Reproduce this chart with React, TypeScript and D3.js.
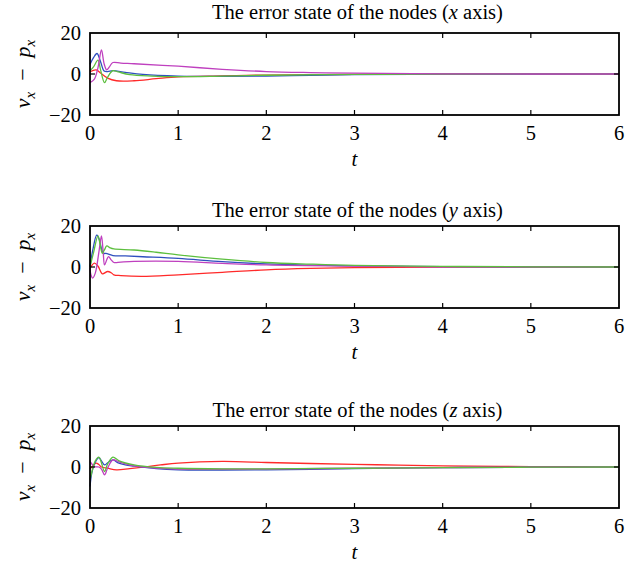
import React from "react";
import * as d3 from "d3";

// time ticks and value ticks shared by all three panels
const tTicks = [0, 1, 2, 3, 4, 5, 6];
const vTicks = [-20, 0, 20];
const axisNames = ["x", "y", "z"];

// [t, value] samples
const xBlue = [[0, 4.7], [0.04, 8], [0.08, 10], [0.12, 6], [0.16, 1.5], [0.2, 1.2], [0.26, 1.6], [0.4, 0.8], [0.6, -0.2], [1, -1], [1.5, -1.2], [2, -1], [2.5, -0.6], [3, -0.3], [4, -0.1], [5, 0], [6, 0]];
const xMagenta = [[0, -4.2], [0.05, -2.5], [0.09, 3], [0.13, 11.7], [0.16, 5], [0.19, 2], [0.22, 3.5], [0.26, 5.6], [0.35, 5.3], [0.5, 5], [1, 3.8], [1.5, 2.3], [2, 1.2], [2.5, 0.7], [3, 0.4], [4, 0.1], [5, 0], [6, 0]];
const xGreen = [[0, 1.6], [0.04, 3.5], [0.09, 6.8], [0.12, 2], [0.165, -4.2], [0.2, -1.5], [0.26, 1.6], [0.32, 1], [0.45, -0.3], [0.7, -1], [1, -1.3], [1.5, -1], [2, -0.6], [3, -0.2], [4, 0], [6, 0]];
const xRed = [[0, 1.1], [0.07, 2], [0.12, 0.5], [0.2, -2], [0.3, -3.3], [0.5, -3.3], [0.75, -2.3], [1, -1.4], [1.5, -0.9], [2, -0.5], [3, -0.2], [4, 0], [6, 0]];

const yBlue = [[0, 0.2], [0.03, 8], [0.076, 15.6], [0.1, 14], [0.13, 9], [0.15, 6.7], [0.18, 6.6], [0.21, 6.3], [0.26, 5.6], [0.4, 5.4], [0.6, 5], [1, 4.2], [1.5, 2.6], [2, 1.5], [2.5, 0.9], [3, 0.5], [4, 0.2], [5, 0.1], [6, 0]];
const yGreen = [[0, 0.2], [0.04, 7], [0.09, 15.2], [0.115, 11], [0.14, 6.7], [0.165, 8.5], [0.19, 10.3], [0.23, 9.3], [0.27, 8.8], [0.5, 8.3], [0.75, 7.2], [1, 5.9], [1.5, 3.8], [2, 2.2], [2.5, 1.4], [3, 0.8], [4, 0.3], [5, 0.1], [6, 0]];
const yMagenta = [[0, -0.5], [0.01, -3.8], [0.03, -5.4], [0.06, -3], [0.1, 7], [0.13, 15.2], [0.15, 7], [0.165, 1], [0.19, 3.5], [0.21, 5.1], [0.24, 3.5], [0.27, 2.2], [0.35, 2.4], [0.5, 2.7], [1, 2.7], [1.5, 1.8], [2, 1], [3, 0.4], [4, 0.1], [6, 0]];
const yRed = [[0, -0.6], [0.05, 1.9], [0.09, 0.5], [0.14, -3.3], [0.2, -2.2], [0.24, -2.8], [0.27, -3.8], [0.35, -4.2], [0.59, -4.6], [1, -3.8], [1.5, -2.6], [2, -1.4], [2.5, -0.7], [3, -0.3], [4, -0.1], [6, 0]];

const zBlue = [[0, -9.5], [0.02, -3], [0.05, 1.5], [0.1, 4.6], [0.13, 3], [0.165, 1], [0.2, 2], [0.26, 3.5], [0.32, 2], [0.4, 1], [0.5, 0.4], [0.75, -0.8], [1, -1.4], [1.5, -1.5], [2, -1.4], [2.5, -1.1], [3, -0.8], [4, -0.3], [5, -0.1], [6, 0]];
const zGreen = [[0, -6.2], [0.03, -1], [0.06, 3], [0.1, 4.8], [0.13, 2], [0.165, -2.2], [0.2, 1.5], [0.26, 4.8], [0.33, 3], [0.5, 1], [0.75, -0.2], [1, -0.6], [1.5, -0.9], [2, -0.9], [3, -0.6], [4, -0.3], [5, -0.1], [6, 0]];
const zMagenta = [[0, 2.7], [0.05, 0.2], [0.1, 0], [0.13, -1], [0.165, -3.8], [0.2, -0.5], [0.26, 3.5], [0.33, 2.5], [0.5, 0.6], [0.75, -0.5], [1, -1], [1.5, -1.1], [2, -1], [3, -0.6], [4, -0.3], [5, -0.1], [6, 0]];
const zRed = [[0, -1], [0.03, 0.5], [0.07, 1.9], [0.1, 1.2], [0.13, 0], [0.2, -0.6], [0.3, -1.4], [0.45, -0.8], [0.6, -0.1], [0.8, 1], [1, 1.9], [1.5, 2.7], [2, 2.2], [2.5, 1.7], [3, 1.3], [3.5, 0.9], [4, 0.5], [5, 0.2], [6, 0]];

const colors = { blue: "#2f4fbf", green: "#5dbf3f", red: "#ff2a2a", magenta: "#bf40bf" };

const panels = [
  [{ d: xRed, c: colors.red }, { d: xBlue, c: colors.blue }, { d: xGreen, c: colors.green }, { d: xMagenta, c: colors.magenta }],
  [{ d: yRed, c: colors.red }, { d: yBlue, c: colors.blue }, { d: yMagenta, c: colors.magenta }, { d: yGreen, c: colors.green }],
  [{ d: zRed, c: colors.red }, { d: zBlue, c: colors.blue }, { d: zMagenta, c: colors.magenta }, { d: zGreen, c: colors.green }],
];

// layout
const W = 638;
const H = 571;
const left = 90;
const right = 619;
const panelTops = [33, 226, 426];
const titleBase = [19, 217, 417];
const plotH = 82;
const font = "'Liberation Serif', 'Times New Roman', serif";

const Panel = ({ idx }: { idx: number }) => {
  const top = panelTops[idx];
  const bottom = top + plotH;
  const x = d3.scaleLinear().domain([0, 6]).range([left, right]);
  const y = d3.scaleLinear().domain([-20, 20]).range([bottom, top]);
  const line = d3
    .line<number[]>()
    .x((p) => x(p[0]))
    .y((p) => y(p[1]))
    .curve(d3.curveCatmullRom.alpha(0.5));
  const midY = (top + bottom) / 2;

  return (
    <g fontFamily={font}>
      <text x={(left + right) / 2 + 3} y={titleBase[idx]} fontSize={20.5} textAnchor="middle">
        The error state of the nodes (<tspan fontStyle="italic">{axisNames[idx]}</tspan> axis)
      </text>

      {panels[idx].map((s, i) => (
        <path key={i} d={line(s.d as number[][]) || ""} fill="none" stroke={s.c} strokeWidth={1.3} />
      ))}

      {/* inward ticks */}
      {tTicks.slice(1, -1).map((t) => (
        <g key={t}>
          <line x1={x(t)} x2={x(t)} y1={top} y2={top + 5} stroke="black" strokeWidth={1.2} />
          <line x1={x(t)} x2={x(t)} y1={bottom} y2={bottom - 5} stroke="black" strokeWidth={1.2} />
        </g>
      ))}
      <line x1={left} x2={left + 5} y1={y(0)} y2={y(0)} stroke="black" strokeWidth={1.2} />
      <line x1={right} x2={right - 5} y1={y(0)} y2={y(0)} stroke="black" strokeWidth={1.2} />

      <rect x={left} y={top} width={right - left} height={plotH} fill="none" stroke="black" strokeWidth={1.8} />

      {tTicks.map((t) => (
        <text key={t} x={x(t)} y={bottom + 25} fontSize={20.5} textAnchor="middle">
          {t}
        </text>
      ))}
      {vTicks.map((v) => (
        <text key={v} x={left - 9} y={y(v) + 7} fontSize={20.5} textAnchor="end">
          {v < 0 ? "\u2212" + Math.abs(v) : v}
        </text>
      ))}

      <text x={(left + right) / 2} y={bottom + 51} fontSize={21} fontStyle="italic" textAnchor="middle">
        t
      </text>

      <text transform={`translate(30, ${midY}) rotate(-90)`} fontSize={22} textAnchor="middle">
        <tspan fontStyle="italic">v</tspan>
        <tspan fontStyle="italic" fontSize={15} dy={5}>x</tspan>
        <tspan dy={-5}>{"\u2002\u2212\u2002"}</tspan>
        <tspan fontStyle="italic">p</tspan>
        <tspan fontStyle="italic" fontSize={15} dy={5}>x</tspan>
      </text>
    </g>
  );
};

export default function App() {
  return (
    <svg width={W} height={H} style={{ position: "absolute", left: 0, top: 0, background: "white" }}>
      {panels.map((_, i) => (
        <Panel key={i} idx={i} />
      ))}
    </svg>
  );
}
